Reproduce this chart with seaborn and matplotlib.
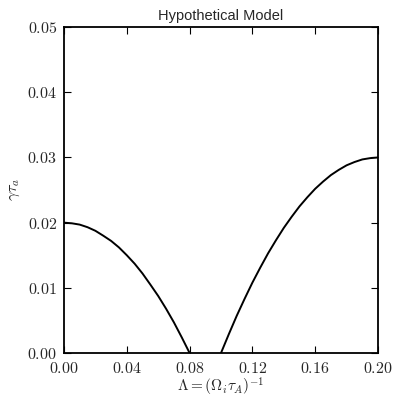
import matplotlib
import pandas as pd
import seaborn as sns
import matplotlib.pyplot as plt
from matplotlib.ticker import FixedLocator, FuncFormatter

# growth rate, two separate branches
lam_left = [0.0, 0.005, 0.01, 0.015, 0.02, 0.025, 0.03, 0.035, 0.04, 0.045,
            0.05, 0.055, 0.06, 0.065, 0.07, 0.075, 0.08]
gam_left = [0.0200, 0.0199, 0.0197, 0.0193, 0.01875, 0.0180, 0.0172, 0.0162, 0.0150, 0.0137,
            0.0122, 0.0105, 0.00875, 0.0068, 0.0047, 0.0024, 0.0]
lam_right = [0.10, 0.105, 0.11, 0.115, 0.12, 0.125, 0.13, 0.135, 0.14, 0.145, 0.15,
             0.155, 0.16, 0.165, 0.17, 0.175, 0.18, 0.185, 0.19, 0.195, 0.20]
gam_right = [0.0, 0.0029, 0.0057, 0.0083, 0.0108, 0.0131, 0.0153, 0.0173, 0.0192, 0.0209, 0.0225,
             0.0239, 0.0252, 0.0263, 0.0273, 0.0281, 0.0288, 0.0293, 0.0297, 0.0299, 0.0300]

xticks = [0.00, 0.04, 0.08, 0.12, 0.16, 0.20]
yticks = [0.00, 0.01, 0.02, 0.03, 0.04, 0.05]

df = pd.concat([
    pd.DataFrame({'lam': lam_left, 'gamma': gam_left, 'branch': 'left'}),
    pd.DataFrame({'lam': lam_right, 'gamma': gam_right, 'branch': 'right'}),
])

sns.set_style("ticks", {"xtick.direction": "in", "ytick.direction": "in"})
matplotlib.rcParams['font.family'] = ['Liberation Sans', 'DejaVu Sans']
matplotlib.rcParams['mathtext.fontset'] = 'cm'

fig = plt.figure(figsize=(3.95, 3.99), dpi=100)
ax = fig.add_axes([0.162, 0.1153, 0.795, 0.8167])
sns.lineplot(data=df, x='lam', y='gamma', units='branch', estimator=None,
             color='black', linewidth=1.4, ax=ax)

ax.set_xlim(0, 0.2)
ax.set_ylim(0, 0.05)
ax.xaxis.set_major_locator(FixedLocator(xticks))
ax.yaxis.set_major_locator(FixedLocator(yticks))
fmt = FuncFormatter(lambda v, _: r'$%.2f$' % v)
ax.xaxis.set_major_formatter(fmt)
ax.yaxis.set_major_formatter(fmt)
ax.tick_params(direction='in', length=5, width=0.8, top=True, right=True,
               labelsize=11.5, color='black')
ax.tick_params(axis='x', pad=6)
ax.tick_params(axis='y', pad=5)
for s in ax.spines.values():
    s.set_linewidth(1.3)
    s.set_color('black')

ax.set_xlabel(r'$\Lambda=(\Omega_i\tau_A)^{-1}$', fontsize=11, labelpad=0)
ax.set_ylabel(r'$\gamma\tau_a$', fontsize=11.5, labelpad=4)
ax.set_title('Hypothetical Model', fontsize=10.5, pad=5)

fig.savefig('out.png', dpi=100)
